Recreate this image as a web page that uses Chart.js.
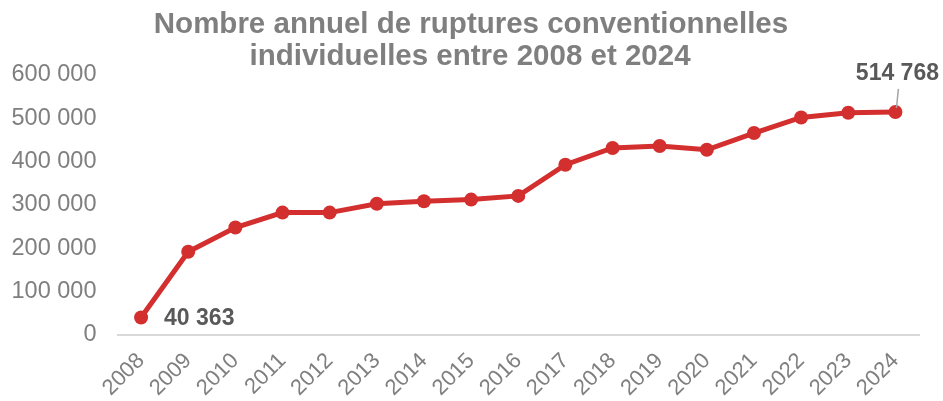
<!DOCTYPE html>
<html>
<head>
<meta charset="utf-8">
<script src="https://cdn.jsdelivr.net/npm/chart.js@4/dist/chart.umd.min.js"></script>
<style>
  html, body { margin: 0; padding: 0; background: #fff; }
  #wrap { width: 943px; height: 401px; position: relative; }
</style>
</head>
<body>
<div id="wrap"><canvas id="chart"></canvas></div>
<script>
const years = ['2008', '2009', '2010', '2011', '2012', '2013', '2014', '2015', '2016',
               '2017', '2018', '2019', '2020', '2021', '2022', '2023', '2024'];
const ruptures = [40363, 192000, 248000, 282500, 282500, 303000, 308500, 312500, 321000,
                  393000, 431500, 436000, 427500, 466000, 502000, 513000, 514768];
const yTicks = [0, 100000, 200000, 300000, 400000, 500000, 600000];
const titleLines = ['Nombre annuel de ruptures conventionnelles',
                    'individuelles entre 2008 et 2024'];
const labelledPoints = [0, 16];

const red = '#d32f2f';
const grey = '#7f7f7f';

function fmt(v) {
    return String(v).replace(/\B(?=(\d{3})+(?!\d))/g, ' ');
}

// titre + étiquettes de données dessinés à la main
const annotations = {
    id: 'annotations',
    afterDraw(chart) {
        const ctx = chart.ctx;
        ctx.save();
        ctx.fillStyle = grey;
        ctx.textAlign = 'center';
        ctx.textBaseline = 'middle';
        ctx.font = 'bold 29.5px "Liberation Sans", Arial, sans-serif';
        ctx.fillText(titleLines[0], 471, 25);
        ctx.fillText(titleLines[1], 470, 57);

        const pts = chart.getDatasetMeta(0).data;
        ctx.font = 'bold 23px "Liberation Sans", Arial, sans-serif';
        ctx.fillStyle = '#595959';
        // premier point : étiquette à droite
        const p0 = pts[labelledPoints[0]];
        ctx.textAlign = 'left';
        ctx.fillText(fmt(ruptures[labelledPoints[0]]), p0.x + 23, p0.y + 1);
        // dernier point : étiquette au-dessus avec trait de rappel
        const p1 = pts[labelledPoints[1]];
        ctx.strokeStyle = '#a6a6a6';
        ctx.lineWidth = 1.5;
        ctx.beginPath();
        ctx.moveTo(p1.x + 1, p1.y - 4);
        ctx.lineTo(p1.x + 3, p1.y - 23);
        ctx.stroke();
        ctx.textAlign = 'center';
        ctx.fillText(fmt(ruptures[labelledPoints[1]]), p1.x + 2, p1.y - 38);
        ctx.restore();
    }
};

new Chart(document.getElementById('chart'), {
    type: 'line',
    data: {
        labels: years,
        datasets: [{
            data: ruptures,
            borderColor: red,
            backgroundColor: red,
            borderWidth: 5,
            pointRadius: 7,
            pointBorderWidth: 0,
            pointBackgroundColor: red,
            tension: 0,
        }],
    },
    options: {
        responsive: true,
        maintainAspectRatio: false,
        animation: false,
        layout: { padding: { top: 75, right: 24, left: 0, bottom: 0 } },
        plugins: {
            legend: { display: false },
            tooltip: { enabled: false },
        },
        scales: {
            x: {
                offset: true,
                grid: { display: false, drawTicks: false },
                border: { display: true, color: '#d9d9d9', width: 2 },
                ticks: {
                    color: grey,
                    font: { size: 22, family: '"Liberation Sans", Arial, sans-serif' },
                    minRotation: 45,
                    maxRotation: 45,
                    padding: 13,
                    autoSkip: false,
                },
                afterFit(scale) { scale.height = 66; },
            },
            y: {
                min: 0,
                max: 600000,
                grid: { display: false, drawTicks: false },
                border: { display: false },
                afterBuildTicks(scale) { scale.ticks = yTicks.map(v => ({ value: v })); },
                ticks: {
                    color: grey,
                    font: { size: 23.5, family: '"Liberation Sans", Arial, sans-serif' },
                    padding: 21,
                    callback: v => fmt(v),
                },
                afterFit(scale) { scale.width = 117.5; },
            },
        },
    },
    plugins: [annotations],
});
</script>
</body>
</html>
